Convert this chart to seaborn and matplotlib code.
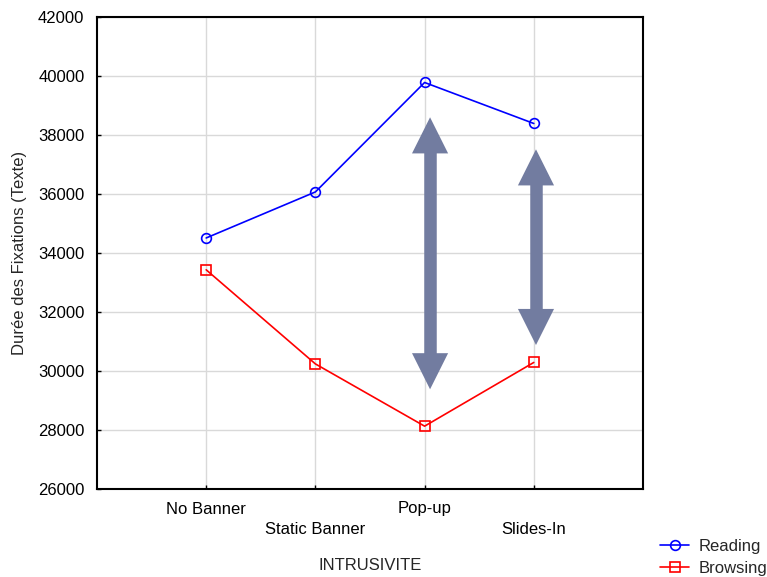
import pandas as pd
import matplotlib.pyplot as plt
import seaborn as sns
from matplotlib.lines import Line2D

categories = ['No Banner', 'Static Banner', 'Pop-up', 'Slides-In']
reading = [34510, 36070, 39780, 38390]
browsing = [33430, 30240, 28130, 30290]
series_names = ['Reading', 'Browsing']

# double arrows: (x position, low end, high end)
arrow_x = [2.05, 3.02]
arrow_low = [29380, 30880]
arrow_high = [38600, 37515]

y_ticks = list(range(26000, 42001, 2000))


def plot_data(df):
    sns.set_theme(style="whitegrid")
    plt.rcParams['font.family'] = ['Liberation Sans', 'DejaVu Sans']

    fig = plt.figure(figsize=(7.67, 5.77), dpi=100)
    ax = fig.add_axes([97 / 767, 1 - 489 / 577, 546 / 767, 472 / 577])

    sns.lineplot(data=df, x='pos', y='value', hue='series', style='series',
                 markers=['o', 's'], dashes=False, palette=['#0000ff', '#ff0000'],
                 linewidth=1.2, markersize=7, legend=False, ax=ax, sort=False)

    for line in ax.lines:
        line.set_markerfacecolor('none')
        line.set_markeredgecolor(line.get_color())
        line.set_markeredgewidth(1.2)

    # double-headed arrows: a thick shaft plus two filled heads
    arrow_col = '#727ca0'
    for x, lo, hi in zip(arrow_x, arrow_low, arrow_high):
        ax.vlines(x, lo + 800, hi - 800, color=arrow_col, linewidth=9, zorder=3)
        mid = (lo + hi) / 2
        for end in (lo, hi):
            ax.annotate('', xy=(x, end), xytext=(x, mid),
                        arrowprops=dict(arrowstyle='-|>,head_length=2.6,head_width=1.3',
                                        mutation_scale=10, color=arrow_col, lw=0,
                                        shrinkA=0, shrinkB=0), zorder=3)

    ax.set_xlim(-1, 4)
    ax.set_ylim(26000, 42000)
    ax.set_xticks(range(len(categories)))
    ax.set_xticklabels([c if i % 2 == 0 else '\n' + c for i, c in enumerate(categories)],
                       linespacing=1.45)
    ax.set_yticks(y_ticks)
    ax.grid(True, color='#d9d9d9', linewidth=1)
    ax.tick_params(axis='both', direction='in', length=3, width=1, colors='black',
                   labelsize=12, left=True, bottom=True, pad=9)
    for s in ax.spines.values():
        s.set_color('black')
        s.set_linewidth(1.5)

    ax.set_xlabel('INTRUSIVITE', fontsize=12, labelpad=15)
    ax.set_ylabel('Durée des Fixations (Texte)', fontsize=12, labelpad=8)

    handles = [Line2D([], [], color='#0000ff', marker='o', mfc='none', lw=1.2, ms=7, mew=1.2),
               Line2D([], [], color='#ff0000', marker='s', mfc='none', lw=1.2, ms=7, mew=1.2)]
    fig.legend(handles, series_names, loc='lower left', bbox_to_anchor=(660 / 767, 1 / 577),
               frameon=False, fontsize=12, handlelength=1.75, handletextpad=0.55,
               labelspacing=0.45, borderpad=0, borderaxespad=0)

    fig.savefig('out.png', dpi=100)


if __name__ == "__main__":
    data = pd.DataFrame({
        'pos': list(range(len(categories))) * 2,
        'value': reading + browsing,
        'series': [series_names[0]] * len(categories) + [series_names[1]] * len(categories),
    })
    plot_data(data)
